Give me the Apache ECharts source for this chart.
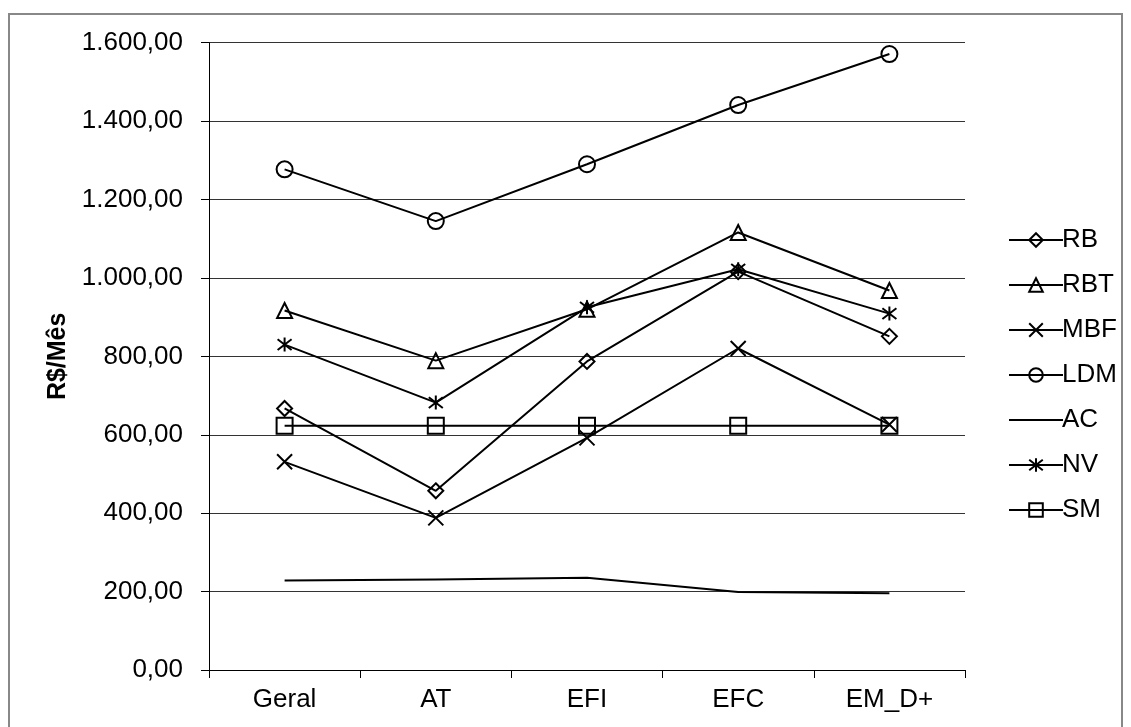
<!DOCTYPE html>
<html><head><meta charset="utf-8">
<script src="https://cdn.jsdelivr.net/npm/echarts@6/dist/echarts.min.js"></script>
<style>html,body{margin:0;padding:0;background:#fff}#c{width:1131px;height:727px}</style>
</head><body><div id="c"></div>
<script>
const categories = ['Geral', 'AT', 'EFI', 'EFC', 'EM_D+'];
const RB  = [667, 457, 787, 1016, 851];
const RBT = [917, 789, 920, 1116, 968];
const MBF = [531, 388, 592, 820, 626];
const LDM = [1277, 1145, 1290, 1441, 1571];
const AC  = [228, 231, 235, 199, 196];
const NV  = [830, 682, 925, 1022, 909];
const SM  = [623, 623, 623, 623, 623];
const seriesNames = ['RB', 'RBT', 'MBF', 'LDM', 'AC', 'NV', 'SM'];
const yTicks = [0, 200, 400, 600, 800, 1000, 1200, 1400, 1600];

const FONT = 'Liberation Sans, Arial, sans-serif';
function fmt(v) {
  const s = v.toFixed(2).split('.');
  return s[0].replace(/\B(?=(\d{3})+(?!\d))/g, '.') + ',' + s[1];
}
const symbols = {
  RB: ['diamond', 15],
  RBT: ['triangle', 15],
  MBF: ['path://M0,0L10,10M10,0L0,10', 15],
  LDM: ['circle', 16],
  AC: ['none', 0],
  NV: ['path://M0,0L10,10M10,0L0,10M5,-1.5L5,11.5', 14],
  SM: ['rect', 16]
};
const dataMap = {RB, RBT, MBF, LDM, AC, NV, SM};
const chart = echarts.init(document.getElementById('c'));
chart.setOption({
  animation: false,
  backgroundColor: '#fff',
  textStyle: {fontFamily: FONT},
  graphic: [{
    type: 'rect', silent: true, z: -10,
    shape: {x: 9, y: 14, width: 1113, height: 740},
    style: {fill: 'none', stroke: '#888', lineWidth: 2}
  }],
  grid: {left: 209, right: 166, top: 42.7, bottom: 57, containLabel: false},
  legend: {
    orient: 'vertical', left: 1003, top: 222,
    itemWidth: 54, itemHeight: 17, itemGap: 19,
    textStyle: {fontFamily: FONT, fontSize: 26, color: '#000', padding: [0, 0, 0, -6]},
    data: seriesNames.map(n => n === 'AC'
      ? {name: n, itemStyle: {color: 'rgba(0,0,0,0)', borderColor: 'rgba(0,0,0,0)', borderWidth: 0}}
      : n)
  },
  xAxis: {
    type: 'category', data: categories, boundaryGap: true,
    axisLine: {lineStyle: {color: '#000', width: 1}},
    axisTick: {show: true, length: 8, lineStyle: {color: '#000'}},
    axisLabel: {fontFamily: FONT, fontSize: 26, color: '#000', margin: 17}
  },
  yAxis: {
    type: 'value', min: yTicks[0], max: yTicks[yTicks.length - 1], interval: 200,
    name: 'R$/Mês', nameLocation: 'middle', nameGap: 135, nameRotate: 90,
    nameTextStyle: {fontFamily: FONT, fontSize: 25, fontWeight: 'bold', color: '#000'},
    axisLine: {show: true, lineStyle: {color: '#000', width: 1}},
    axisTick: {show: true, length: 8, lineStyle: {color: '#000'}},
    axisLabel: {fontFamily: FONT, fontSize: 26, color: '#000', margin: 26, formatter: fmt},
    splitLine: {show: true, lineStyle: {color: '#333', width: 1}}
  },
  series: seriesNames.map(n => ({
    name: n, type: 'line', data: dataMap[n],
    symbol: symbols[n][0], symbolSize: symbols[n][1],
    showSymbol: n !== 'AC',
    lineStyle: {color: '#000', width: 2},
    itemStyle: {color: 'rgba(255,255,255,0)', borderColor: '#000', borderWidth: 2},
    emphasis: {disabled: true}
  }))
});
</script></body></html>
